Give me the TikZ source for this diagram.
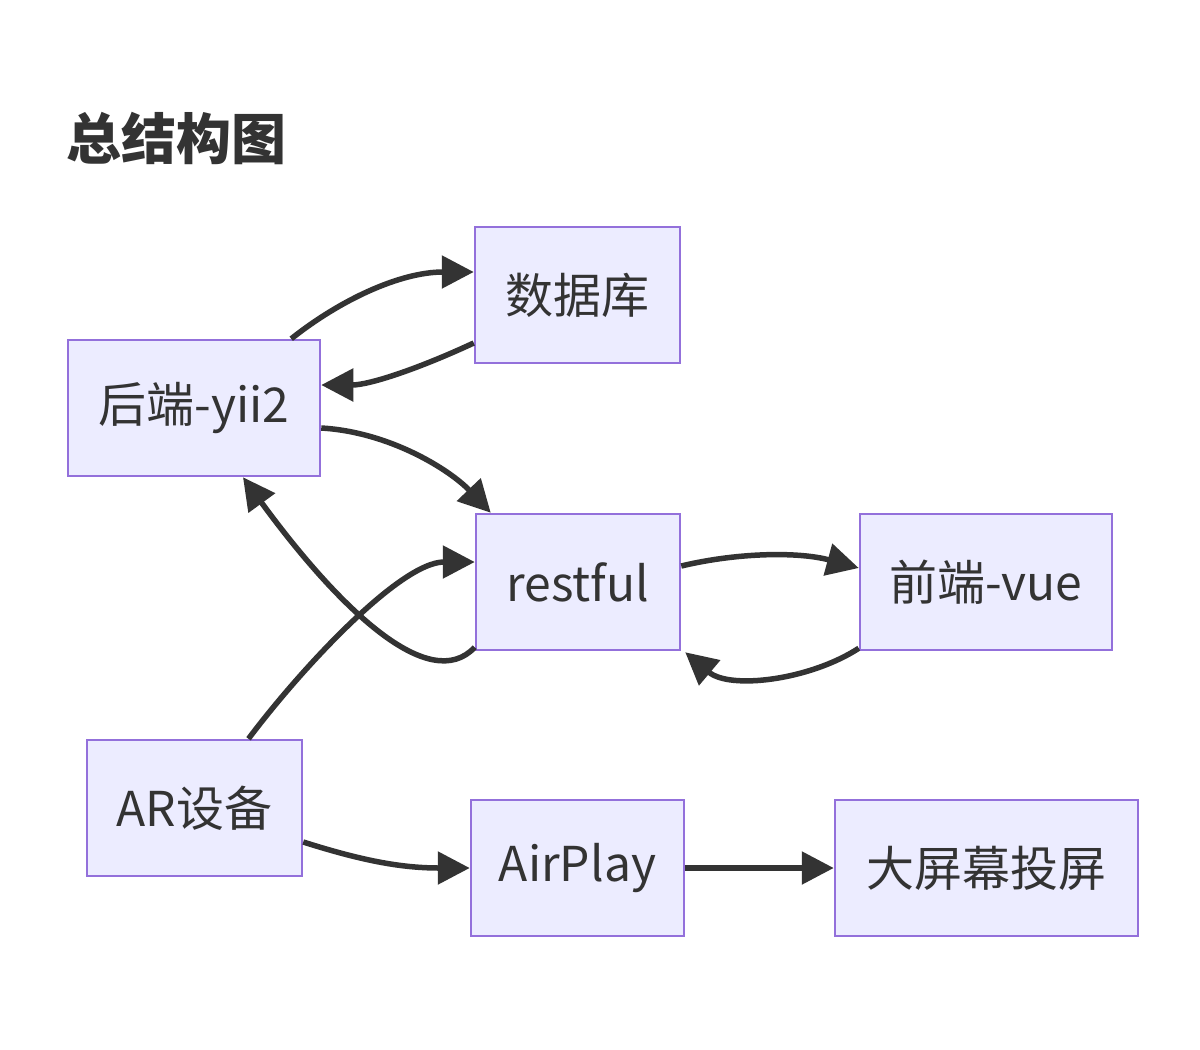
\documentclass[tikz,border=0pt]{standalone}
\usepackage{fontspec}
\setmainfont{Noto Sans CJK SC}
\usetikzlibrary{arrows.meta}
\definecolor{nodefill}{HTML}{ECECFF}
\definecolor{nodeline}{HTML}{9370DB}
\definecolor{ink}{HTML}{333333}
\begin{document}
\begin{tikzpicture}[x=1pt,y=-1pt,
  box/.style={draw=nodeline,fill=nodefill,line width=2.5pt,minimum height=136pt,
    inner sep=0pt,text=ink,font=\fontsize{48}{56}\selectfont},
  link/.style={draw=ink,line width=5.5pt,-{Triangle[length=32pt,width=32pt]}}]
\useasboundingbox[fill=white] (0,0) rectangle (1200,1050);
\node[anchor=west,text=ink,font=\fontsize{55}{60}\selectfont\bfseries,inner sep=0pt] (title) at (66,138) {总结构图};
\node[box,minimum width=205pt] (db) at (577.5,295) {数据库};
\node[box,minimum width=252pt] (hou) at (194,408) {后端-yii2};
\node[box,minimum width=204pt] (rest) at (578,582) {restful};
\node[box,minimum width=252pt] (fv) at (986,582) {前端-vue};
\node[box,minimum width=215pt] (ar) at (194.5,808) {AR设备};
\node[box,minimum width=213pt] (ap) at (577.5,868) {AirPlay};
\node[box,minimum width=303pt] (bs) at (986.5,868) {大屏幕投屏};
\draw[link] ([xshift=-30pt]hou.north east) .. controls (340,300) and (400,272) .. ([yshift=23pt]db.west);
\draw[link] ([yshift=-48pt]db.west) .. controls (420,368) and (370,385) .. ([yshift=23pt]hou.east);
\draw[link] ([yshift=-20pt]hou.east) .. controls (390,432) and (450,470) .. ([xshift=16pt]rest.north west);
\draw[link] ([yshift=4pt]rest.south west) .. controls (430,695) and (340,610) .. ([xshift=49pt]hou.south);
\draw[link] ([xshift=54pt]ar.north) .. controls (300,670) and (400,562) .. ([yshift=20pt]rest.west);
\draw[link] ([yshift=16pt]rest.east) .. controls (740,552) and (800,552) .. ([yshift=14pt]fv.west);
\draw[link] ([yshift=3pt]fv.south west) .. controls (810,680) and (730,690) .. ([xshift=4pt,yshift=-1pt]rest.south east);
\draw[link] ([yshift=-34pt]ar.east) .. controls (360,860) and (400,868) .. (ap.west);
\draw[link] (ap.east) -- (bs.west);
\end{tikzpicture}
\end{document}
